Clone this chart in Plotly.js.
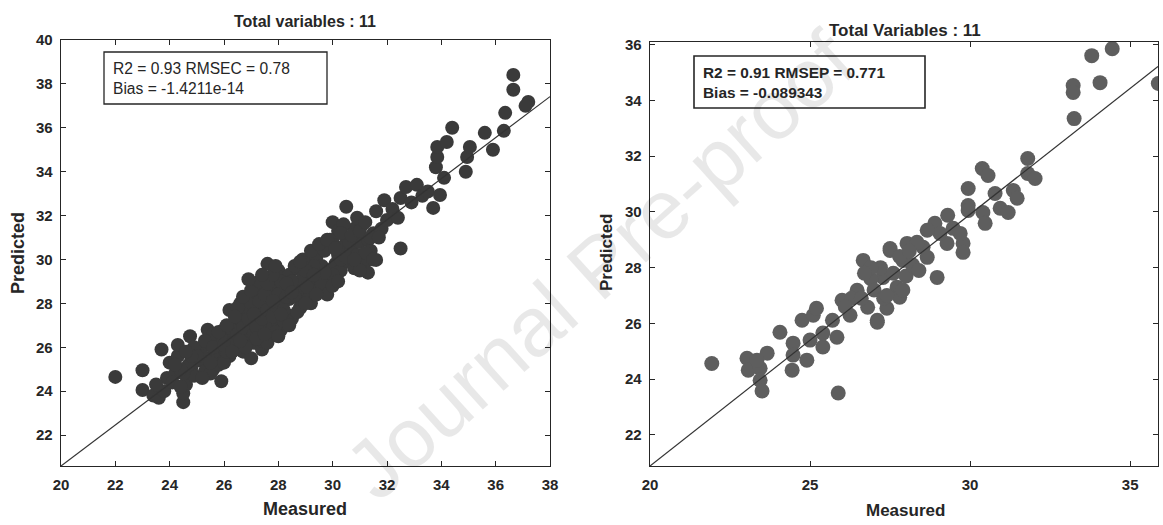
<!DOCTYPE html>
<html>
<head>
<meta charset="utf-8">
<script src="https://cdn.plot.ly/plotly-3.0.1.min.js"></script>
<style>
  html, body { margin: 0; padding: 0; background: #ffffff; }
  #chart { width: 1163px; height: 525px; }
</style>
</head>
<body>
<div id="chart"></div>
<script>
// Calibration set: measured vs predicted
const measuredCal = [
  22.0, 23.0, 23.0, 23.7, 23.4, 23.6, 23.8, 23.9, 23.5, 24.5, 24.5, 24.6, 24.2, 24.0, 24.3, 24.3,
  24.75, 24.8, 24.9, 25.1, 25.0, 25.2, 25.3, 25.4, 25.4, 25.5, 25.6, 25.7, 25.8, 25.9, 25.9, 26.0,
  26.0, 26.1, 26.2, 26.2, 26.3, 26.4, 26.4, 26.5, 26.5, 26.6, 26.6, 26.7, 26.7, 26.8, 26.8, 26.9,
  26.9, 27.0, 27.0, 27.0, 27.1, 27.1, 27.2, 27.2, 27.3, 27.3, 27.4, 27.4, 27.5, 27.5, 27.6, 27.6,
  27.7, 27.7, 27.8, 27.8, 27.9, 27.9, 28.0, 28.0, 28.1, 28.1, 28.2, 28.3, 28.4, 28.4, 28.5, 28.6,
  28.7, 28.8, 28.8, 28.9, 29.0, 29.1, 29.1, 29.2, 29.3, 29.4, 29.5, 29.5, 29.6, 29.7, 29.8, 29.9,
  30.0, 30.0, 30.1, 30.2, 30.2, 30.3, 30.4, 30.5, 30.5, 30.6, 30.7, 30.8, 30.9, 31.0, 31.1, 31.2,
  31.3, 31.3, 31.5, 31.6, 31.6, 31.8, 31.9, 32.0, 32.2, 32.4, 32.5, 32.5, 32.7, 32.9, 33.1, 33.3,
  33.5, 33.7, 33.8, 33.85, 33.85, 33.95, 34.1, 34.2, 34.4, 34.9, 34.95, 35.05, 35.6, 35.9, 36.3, 36.35,
  36.65, 36.65, 37.2, 37.1,
  26.2, 26.3, 26.5, 26.6, 26.7, 26.8, 26.9, 27.0, 27.1, 27.2, 27.3, 27.4, 27.5, 27.6, 27.7, 27.8,
  27.9, 28.0, 28.1, 28.2, 28.3, 27.4, 27.6, 27.9, 28.2, 25.2, 25.5, 25.7, 25.8, 26.0, 26.1, 24.7,
  24.5, 24.4, 24.9, 25.6, 28.9, 29.2, 29.6, 29.8, 29.3, 30.0, 30.3, 30.6, 30.8, 31.0, 29.0, 28.6,
  28.5, 30.4, 29.9, 31.4, 31.2, 28.8, 29.05,
  25.0, 25.3, 25.5, 25.6, 25.8, 26.0, 26.1, 26.3, 25.2, 24.8, 24.6, 24.2, 24.1, 24.4,
  26.5, 26.7, 26.8, 27.0, 27.1, 27.2, 27.3, 27.5, 27.6, 27.8, 27.8, 28.0, 28.1, 28.3, 28.4, 28.5,
  28.6, 28.7, 26.9, 27.4, 27.9, 26.4, 26.6,
  28.9, 29.0, 29.2, 29.4, 29.5, 29.7, 29.8, 30.0, 30.1, 30.2, 30.3, 30.5, 30.7, 30.8, 30.9, 31.0,
  31.2, 31.4, 31.5, 31.7, 29.3, 28.8
];
const predictedCal = [
  24.65, 24.95, 24.05, 25.9, 23.8, 23.7, 24.0, 24.6, 24.3, 23.5, 23.9, 24.3, 24.8, 25.3, 25.6, 26.1,
  26.5, 25.1, 24.7, 25.4, 25.9, 26.0, 24.9, 25.5, 26.8, 26.2, 25.0, 25.7, 26.4, 24.45, 25.3, 26.8,
  25.9, 26.3, 27.7, 25.6, 27.0, 26.5, 25.9, 27.3, 26.1, 28.0, 26.8, 25.8, 27.5, 26.3, 27.0, 28.2,
  26.6, 27.4, 25.5, 26.9, 27.9, 26.2, 27.2, 28.3, 26.7, 27.6, 25.9, 28.6, 27.0, 27.9, 29.8, 26.5,
  28.2, 27.3, 28.8, 26.9, 27.6, 28.4, 29.5, 27.1, 28.0, 26.8, 28.7, 27.5, 29.3, 28.2, 27.3, 28.9,
  29.6, 27.8, 28.5, 29.2, 28.6, 29.9, 28.2, 29.4, 28.9, 30.1, 29.2, 28.6, 29.7, 30.4, 29.0, 29.5,
  30.8, 31.7, 29.8, 31.3, 30.2, 29.5, 30.6, 32.4, 31.0, 29.9, 30.5, 31.4, 30.2, 30.8, 31.6, 29.9,
  30.9, 29.4, 31.2, 29.98, 32.2, 31.4, 32.7, 31.8, 32.3, 31.9, 32.8, 30.5, 33.3, 32.6, 33.4, 32.9,
  33.1, 32.35, 34.2, 34.67, 35.13, 32.94, 33.72, 35.35, 36.0, 34.0, 34.67, 35.13, 35.77, 35.0, 35.86, 36.68,
  37.73, 38.41, 37.18, 37.0,
  26.9, 26.2, 26.6, 27.3, 26.9, 27.7, 27.3, 28.0, 26.6, 26.9, 28.1, 27.3, 28.4, 27.7, 28.9, 27.4,
  27.9, 28.4, 29.0, 27.7, 28.3, 26.3, 26.2, 26.7, 27.2, 25.6, 24.8, 26.1, 25.2, 25.3, 25.8, 25.2,
  24.8, 25.0, 26.0, 26.6, 28.0, 28.0, 28.9, 28.4, 29.7, 29.3, 30.0, 30.8, 29.6, 29.5, 29.5, 28.3,
  29.0, 31.6, 30.9, 30.4, 30.3, 27.79, 28.75,
  25.6, 26.3, 25.3, 26.0, 26.7, 26.1, 27.0, 25.8, 24.6, 25.6, 25.8, 25.2, 24.4, 24.2,
  27.8, 28.3, 26.0, 28.6, 27.5, 26.4, 29.0, 26.6, 28.9, 29.3, 28.1, 26.5, 27.5, 28.9, 27.0, 28.5,
  29.7, 27.6, 29.1, 29.3, 29.7, 27.4, 26.3,
  30.0, 28.0, 30.4, 28.4, 30.7, 29.4, 30.9, 28.8, 30.5, 29.0, 31.2, 30.1, 31.1, 30.0, 31.9, 31.3,
  31.7, 31.0, 30.0, 31.0, 29.3, 29.9
];

// Prediction set: measured vs predicted
const measuredVal = [
  21.93, 25.88, 23.03, 23.66, 23.07, 23.44, 23.44, 23.5, 23.34, 24.06, 24.47, 24.47, 24.44, 24.9, 24.75, 25.1,
  25.2, 25.0, 25.4, 25.4, 25.84, 25.7, 26.0, 26.25, 26.47, 26.66, 26.8, 27.1, 27.28, 27.5, 27.4, 27.72,
  27.9, 28.03, 33.8, 34.44, 34.06, 33.22, 33.22, 33.25, 35.88, 31.8, 30.38, 30.56, 31.8, 32.03, 29.94, 29.94,
  30.78, 31.35, 31.47, 30.94, 31.19, 30.4, 30.47, 29.94, 29.3, 28.9, 29.47, 29.78, 29.69, 29.28, 29.06, 28.53,
  28.34, 28.66, 27.5, 28.97, 27.1, 27.8, 28.66, 29.78, 26.3, 26.6, 26.9, 27.0, 27.2, 27.3, 27.6, 27.8,
  28.0, 28.2, 28.4, 26.9, 27.4, 26.1, 26.7, 27.9, 28.1
];
const predictedVal = [
  24.56, 23.5, 24.75, 24.93, 24.32, 24.39, 23.96, 23.57, 24.68, 25.68, 25.29, 24.86, 24.32, 24.68, 26.11, 26.29,
  26.54, 25.4, 25.15, 25.65, 25.5, 26.11, 26.83, 26.29, 27.19, 28.26, 26.58, 26.11, 27.65, 28.62, 26.54, 27.3,
  28.26, 28.87, 35.61, 35.86, 34.64, 34.54, 34.29, 33.35, 34.61, 31.92, 31.56, 31.31, 31.38, 31.2, 30.84, 30.23,
  30.66, 30.77, 30.49, 30.13, 29.98, 29.98, 29.59, 30.05, 29.88, 29.59, 29.41, 28.87, 29.23, 28.87, 29.23, 28.73,
  28.91, 29.34, 28.69, 27.65, 26.04, 26.94, 28.37, 28.55, 26.9, 26.9, 27.6, 27.2, 28.0, 26.9, 27.8, 28.4,
  27.7, 28.1, 27.9, 28.0, 27.0, 26.6, 27.8, 27.2, 28.6
];

// Fitted lines (measured range -> predicted)
const fitCalX = [20, 38];
const fitCalY = [20.59, 37.42];
const fitValX = [20, 35.87];
const fitValY = [20.88, 35.22];

// Axis ranges and ticks
const calXRange = [20, 38];
const calYRange = [20.59, 40];
const valXRange = [20, 35.87];
const valYRange = [20.88, 36.1];
const calXTicks = [20, 22, 24, 26, 28, 30, 32, 34, 36, 38];
const calYTicks = [22, 24, 26, 28, 30, 32, 34, 36, 38, 40];
const valXTicks = [20, 25, 30, 35];
const valYTicks = [22, 24, 26, 28, 30, 32, 34, 36];

const W = 1163, H = 525;
const px = v => v / W;
const py = v => 1 - v / H;

const FONT = 'Liberation Sans, Arial, sans-serif';
const INK = '#262626';

function axisStyle(range, ticks) {
  return {
    range: range,
    tickmode: 'array',
    tickvals: ticks,
    ticktext: ticks.map(String),
    ticks: 'inside',
    ticklen: 5,
    tickwidth: 1,
    tickcolor: INK,
    showline: true,
    linecolor: INK,
    linewidth: 1.3,
    mirror: 'ticks',
    showgrid: false,
    zeroline: false,
    tickfont: { family: FONT, size: 15, color: INK, weight: 'bold' },
    fixedrange: true
  };
}

const traces = [
  {
    x: measuredCal, y: predictedCal, type: 'scatter', mode: 'markers',
    xaxis: 'x', yaxis: 'y',
    marker: { size: 14, color: '#3a3a3a', line: { width: 0 } },
    hoverinfo: 'skip'
  },
  {
    x: fitCalX, y: fitCalY, type: 'scatter', mode: 'lines',
    xaxis: 'x', yaxis: 'y',
    line: { color: '#333333', width: 1.2 },
    hoverinfo: 'skip'
  },
  {
    x: measuredVal, y: predictedVal, type: 'scatter', mode: 'markers',
    xaxis: 'x2', yaxis: 'y2',
    marker: { size: 15, color: '#5e5e5e', line: { width: 0 } },
    hoverinfo: 'skip'
  },
  {
    x: fitValX, y: fitValY, type: 'scatter', mode: 'lines',
    xaxis: 'x2', yaxis: 'y2',
    line: { color: '#333333', width: 1.2 },
    hoverinfo: 'skip'
  }
];

const xa1 = axisStyle(calXRange, calXTicks);
xa1.domain = [px(61), px(550)];
xa1.anchor = 'y';
xa1.ticklabelstandoff = 5;
const ya1 = axisStyle(calYRange, calYTicks);
ya1.domain = [py(466), py(40)];
ya1.anchor = 'x';
ya1.ticklabelstandoff = 4;

const xa2 = axisStyle(valXRange, valXTicks);
xa2.domain = [px(650), px(1158)];
xa2.anchor = 'y2';
xa2.ticklabelstandoff = 5;
const ya2 = axisStyle(valYRange, valYTicks);
ya2.domain = [py(466), py(42)];
ya2.anchor = 'x2';
ya2.ticklabelstandoff = 4;

function label(text, x, y, size, opts) {
  return Object.assign({
    text: text, xref: 'paper', yref: 'paper', x: px(x), y: py(y),
    xanchor: 'center', yanchor: 'middle', showarrow: false,
    font: { family: FONT, size: size, color: INK, weight: 'bold' }
  }, opts || {});
}

const annotations = [
  {
    // faint diagonal watermark
    text: 'Journal Pre-proof',
    xref: 'paper', yref: 'paper', x: px(600), y: py(265),
    xanchor: 'center', yanchor: 'middle', showarrow: false, textangle: -42,
    font: { family: FONT, size: 84, color: 'rgba(0,0,0,0.09)' }
  },
  label('Total variables : 11', 305, 21, 16),
  label('Total Variables : 11', 905, 30, 17),
  label('Measured', 305, 509, 18),
  label('Measured', 905, 510, 17),
  label('Predicted', 18, 253, 18, { textangle: -90 }),
  label('Predicted', 607, 253, 17, { textangle: -90 }),
  {
    text: 'R2 = 0.93 RMSEC = 0.78<br>Bias = -1.4211e-14',
    xref: 'paper', yref: 'paper', x: px(111), y: py(78),
    xanchor: 'left', yanchor: 'middle', align: 'left', showarrow: false,
    font: { family: FONT, size: 15.6, color: INK }
  },
  {
    text: 'R2 = 0.91 RMSEP = 0.771<br>Bias = -0.089343',
    xref: 'paper', yref: 'paper', x: px(701), y: py(82),
    xanchor: 'left', yanchor: 'middle', align: 'left', showarrow: false,
    font: { family: FONT, size: 15.4, color: INK, weight: 'bold' }
  }
];

const shapes = [
  {
    type: 'rect', xref: 'paper', yref: 'paper',
    x0: px(104), x1: px(327), y0: py(104), y1: py(52),
    line: { color: INK, width: 1.3 }, fillcolor: 'rgba(255,255,255,1)', layer: 'above'
  },
  {
    type: 'rect', xref: 'paper', yref: 'paper',
    x0: px(694), x1: px(925), y0: py(108), y1: py(56),
    line: { color: INK, width: 1.6 }, fillcolor: 'rgba(255,255,255,1)', layer: 'above'
  }
];

const layout = {
  width: W, height: H,
  margin: { l: 0, r: 0, t: 0, b: 0 },
  paper_bgcolor: '#ffffff',
  plot_bgcolor: '#ffffff',
  showlegend: false,
  xaxis: xa1, yaxis: ya1,
  xaxis2: xa2, yaxis2: ya2,
  annotations: annotations,
  shapes: shapes,
  font: { family: FONT, color: INK }
};

Plotly.newPlot('chart', traces, layout, { displayModeBar: false, staticPlot: true });
</script>
</body>
</html>
